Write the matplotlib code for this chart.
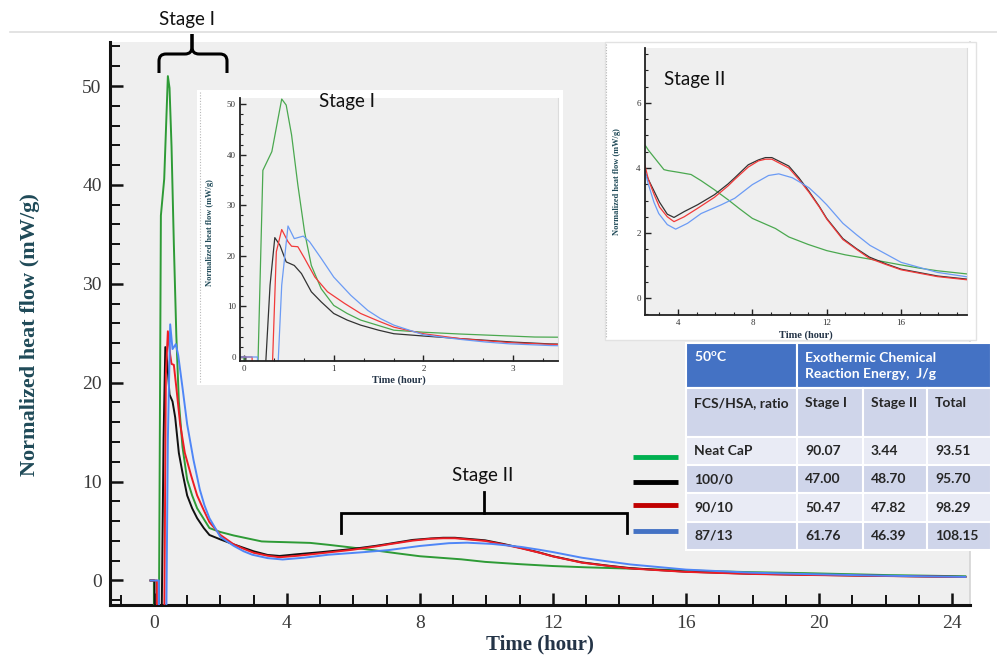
import matplotlib
matplotlib.use("Agg")
import matplotlib.pyplot as plt
from matplotlib.patches import Rectangle, PathPatch
from matplotlib.path import Path
from matplotlib.ticker import MultipleLocator

# ---------------- data ----------------
series_names = ["Neat CaP", "100/0", "90/10", "87/13"]

green_t = [-0.10, 0.00, 0.001, 0.15, 0.21, 0.31, 0.42, 0.47, 0.53, 0.60, 0.675, 0.75, 0.86,
           1.00, 1.15, 1.30, 1.67, 2.00, 2.40, 2.96, 3.24, 3.46, 4.00, 4.70, 5.24, 5.96, 6.70,
           7.30, 8.00, 9.24, 9.96, 11.0, 12.0, 13.0, 14.3, 16.0, 17.0, 17.96, 19.6, 22.0, 24.4]
green_v = [0, 0, -5, -5, 36.9, 40.6, 51.0, 49.8, 43.9, 34.0, 24.7, 18.1, 13.5,
           10.2, 8.6, 7.3, 5.3, 4.9, 4.55, 4.15, 3.95, 3.92, 3.87, 3.80, 3.61, 3.33, 3.02,
           2.75, 2.45, 2.14, 1.88, 1.65, 1.46, 1.33, 1.20, 1.02, 0.92, 0.84, 0.74, 0.55, 0.42]

black_t = [-0.10, 0.02, 0.021, 0.23, 0.29, 0.343, 0.40, 0.47, 0.56, 0.64, 0.75, 0.86, 1.00,
           1.15, 1.30, 1.50, 1.67, 2.00, 2.40, 2.70, 3.00, 3.42, 3.78, 4.33, 5.05, 5.96, 6.69,
           7.05, 7.78, 8.33, 8.70, 9.05, 9.96, 10.5, 11.05, 11.6, 12.0, 12.87, 13.6, 14.3,
           15.2, 16.0, 17.96, 19.6, 22.0, 24.4]
black_v = [0, 0, -5, -5, 14.2, 23.6, 22.1, 18.8, 18.1, 16.5, 12.9, 10.9, 8.6,
           7.3, 6.3, 5.3, 4.6, 4.15, 3.65, 3.3, 2.95, 2.58, 2.48, 2.66, 2.87, 3.18, 3.51,
           3.70, 4.10, 4.25, 4.32, 4.32, 4.06, 3.70, 3.28, 2.82, 2.45, 1.83, 1.52, 1.26,
           1.05, 0.89, 0.68, 0.58, 0.46, 0.36]

red_t = [-0.10, 0.09, 0.091, 0.31, 0.36, 0.42, 0.49, 0.53, 0.60, 0.675, 0.79, 0.93, 1.12,
         1.30, 1.50, 1.67, 2.00, 2.40, 2.70, 3.00, 3.42, 3.78, 4.33, 5.05, 5.96, 6.69,
         7.05, 7.78, 8.33, 8.70, 9.05, 9.96, 10.5, 11.05, 11.6, 12.0, 12.87, 13.6, 14.3,
         15.2, 16.0, 17.96, 19.6, 22.0, 24.4]
red_v = [0, 0, -5, -5, 20.8, 25.2, 22.8, 21.9, 21.8, 19.5, 15.8, 12.9, 10.6,
         8.6, 7.1, 5.9, 4.6, 3.65, 3.2, 2.8, 2.5, 2.35, 2.5, 2.76, 3.10, 3.45,
         3.65, 4.03, 4.22, 4.27, 4.27, 4.00, 3.65, 3.25, 2.80, 2.43, 1.80, 1.50, 1.22,
         1.03, 0.87, 0.66, 0.56, 0.45, 0.35]

blue_t = [-0.10, 0.15, 0.151, 0.37, 0.42, 0.49, 0.56, 0.66, 0.73, 0.86, 1.00, 1.19, 1.38,
          1.52, 1.67, 2.00, 2.40, 2.70, 2.96, 3.42, 3.87, 4.51, 5.24, 6.33, 7.05, 8.00, 8.87,
          9.42, 10.15, 10.6, 11.05, 11.6, 12.0, 12.87, 13.6, 14.33, 15.2, 16.0, 17.96, 19.6,
          22.0, 24.4]
blue_v = [0, 0, -5, -5, 14.2, 25.9, 23.4, 23.9, 22.8, 19.5, 15.8, 12.2, 9.2,
          7.6, 6.3, 4.4, 3.5, 2.95, 2.6, 2.26, 2.12, 2.30, 2.60, 2.87, 3.07, 3.49, 3.77,
          3.82, 3.70, 3.55, 3.39, 3.10, 2.87, 2.30, 1.95, 1.62, 1.35, 1.10, 0.79, 0.65,
          0.48, 0.36]

main_xticks = [0, 4, 8, 12, 16, 20, 24]
main_yticks = [0, 10, 20, 30, 40, 50]
inset1_xticks = [0, 1, 2, 3]
inset1_yticks = [0, 10, 20, 30, 40, 50]
inset2_xticks = [4, 8, 12, 16]
inset2_yticks = [0, 2, 4, 6]

table_header = [r"50$^{\mathregular{o}}$C", "Exothermic Chemical\nReaction Energy,  J/g"]
table_cols = ["FCS/HSA, ratio", "Stage I", "Stage II", "Total"]
table_rows = [["Neat CaP", "90.07", "3.44", "93.51"],
              ["100/0", "47.00", "48.70", "95.70"],
              ["90/10", "50.47", "47.82", "98.29"],
              ["87/13", "61.76", "46.39", "108.15"]]

# ---------------- styling ----------------
W, H = 997, 655
SERIF = "Liberation Serif"
SANS = "Lato"
main_colors = ["#2e9b36", "#111111", "#ee1c24", "#4f86f7"]
inset_colors = ["#4aa84f", "#333333", "#f23a3a", "#6b9bf5"]
swatch_colors = ["#00b050", "#000000", "#c00000", "#4472c4"]
swatch_y = [457, 482, 505, 531]
label_color = "#1f4a58"

data = [(green_t, green_v), (black_t, black_v), (red_t, red_v), (blue_t, blue_v)]


def rect(x0, y0, x1, y1):
    return [x0 / W, 1 - y1 / H, (x1 - x0) / W, (y1 - y0) / H]


fig = plt.figure(figsize=(W / 100, H / 100), dpi=100)
fig.patch.set_facecolor("white")

# ---------------- main axes ----------------
ax = fig.add_axes(rect(110, 42, 970, 605))
ax.set_facecolor("#efefef")
for (t, v), c in zip(data, main_colors):
    ax.plot(t, v, color=c, lw=1.4, zorder=3)
ax.set_xlim(-1.32, 24.54)
ax.set_ylim(-2.48, 54.45)
ax.set_xticks(main_xticks)
ax.set_yticks(main_yticks)
ax.xaxis.set_minor_locator(MultipleLocator(1))
ax.yaxis.set_minor_locator(MultipleLocator(2))
ax.spines["top"].set_visible(False)
ax.spines["right"].set_color("#d4d4d4")
ax.spines["right"].set_linewidth(1.2)
for s in ["left", "bottom"]:
    ax.spines[s].set_linewidth(2.2)
    ax.spines[s].set_color("#111111")
ax.tick_params(axis="both", which="major", direction="in", length=9, width=1.8, color="#111111")
ax.tick_params(axis="both", which="minor", direction="in", length=7, width=1.4, color="#111111")
ax.tick_params(axis="y", which="both", right=False)
ax.tick_params(axis="y", which="major", pad=6)
ax.tick_params(axis="x", which="major", pad=7)
for lab in ax.get_xticklabels() + ax.get_yticklabels():
    lab.set_fontfamily(SERIF)
    lab.set_fontsize(14)
    lab.set_color("#3a3a3a")
ax.set_xlabel("Time (hour)", fontfamily=SERIF, fontsize=15, fontweight="bold", color="#243447")
ax.set_ylabel("Normalized heat flow (mW/g)", fontfamily=SERIF, fontsize=16, fontweight="bold",
              color=label_color)
ax.xaxis.set_label_coords(0.5, -0.053)
ax.yaxis.set_label_coords(-0.081, 0.48)

# ---------------- inset boxes ----------------
fig.patches.append(Rectangle((197 / W, 1 - 385 / H), 366 / W, 295 / H, transform=fig.transFigure,
                             facecolor="white", edgecolor="none", zorder=2))
fig.patches.append(Rectangle((605 / W, 1 - 340 / H), 371 / W, 298 / H, transform=fig.transFigure,
                             facecolor="white", edgecolor="#e2e2e2", lw=1.0, zorder=2))


def style_inset(a, xt, yt, xminor, yminor):
    a.set_facecolor("#efefef")
    a.set_xticks(xt)
    a.set_yticks(yt)
    a.xaxis.set_minor_locator(MultipleLocator(xminor))
    a.yaxis.set_minor_locator(MultipleLocator(yminor))
    a.spines["top"].set_visible(False)
    a.spines["right"].set_color("#dcdcdc")
    for s in ["left", "bottom"]:
        a.spines[s].set_linewidth(1.3)
        a.spines[s].set_color("#222222")
    a.tick_params(axis="both", which="major", direction="in", length=4, width=1.0, pad=3,
                  color="#222222")
    a.tick_params(axis="both", which="minor", direction="in", length=2.5, width=0.8,
                  color="#222222")
    for lab in a.get_xticklabels() + a.get_yticklabels():
        lab.set_fontfamily(SERIF)
        lab.set_fontsize(6.5)
        lab.set_color("#333333")


# inset 1 (Stage I)
a1 = fig.add_axes(rect(240, 98, 558, 361), zorder=3)
for (t, v), c in zip(data, inset_colors):
    a1.plot(t, v, color=c, lw=0.9)
a1.set_xlim(-0.045, 3.5)
a1.set_ylim(-0.79, 51.2)
style_inset(a1, inset1_xticks, inset1_yticks, 1 / 3, 2)
a1.set_xlabel("Time (hour)", fontfamily=SERIF, fontsize=7.5, fontweight="bold", color="#243447")
a1.set_ylabel("Normalized heat flow (mW/g)", fontfamily=SERIF, fontsize=6, fontweight="bold",
              color=label_color)
a1.xaxis.set_label_coords(0.5, -0.053)
a1.yaxis.set_label_coords(-0.082, 0.49)

# inset 2 (Stage II)
a2 = fig.add_axes(rect(645, 48, 967, 315), zorder=3)
for (t, v), c in zip(data, inset_colors):
    a2.plot(t, v, color=c, lw=0.9)
a2.set_xlim(2.22, 19.55)
a2.set_ylim(-0.52, 7.69)
style_inset(a2, inset2_xticks, inset2_yticks, 1, 0.5)
a2.set_xlabel("Time (hour)", fontfamily=SERIF, fontsize=7.5, fontweight="bold", color="#243447")
a2.set_ylabel("Normalized heat flow (mW/g)", fontfamily=SERIF, fontsize=6, fontweight="bold",
              color=label_color)
a2.xaxis.set_label_coords(0.5, -0.056)
a2.yaxis.set_label_coords(-0.075, 0.5)

# ---------------- overlay (annotations, table) ----------------
ov = fig.add_axes([0, 0, 1, 1], zorder=5)
ov.set_xlim(0, W)
ov.set_ylim(H, 0)
ov.axis("off")
ov.patch.set_visible(False)

# top separator line
ov.plot([10, W], [32, 32], color="#dedede", lw=1.2)
# dotted left borders of inset boxes
ov.plot([200, 200], [92, 383], color="#b8b8b8", lw=0.8, ls=(0, (1, 1.5)))
ov.plot([606, 606], [44, 338], color="#b8b8b8", lw=0.8, ls=(0, (1, 1.5)))


# Stage I brace
def brace_half(xe, xc):
    s = 1 if xe < xc else -1
    verts = [(xe, 73), (xe, 61), (xe, 54), (xe + s * 7, 54), (xc - s * 7, 54), (xc, 54), (xc, 47),
             (xc, 34)]
    codes = [Path.MOVETO, Path.LINETO, Path.CURVE3, Path.CURVE3, Path.LINETO, Path.CURVE3,
             Path.CURVE3, Path.LINETO]
    return PathPatch(Path(verts, codes), facecolor="none", edgecolor="black", lw=2.2,
                     capstyle="butt", joinstyle="round")


ov.add_patch(brace_half(159, 192))
ov.add_patch(brace_half(227, 192))
ov.text(187, 20, "Stage I", fontfamily=SANS, fontsize=13.5, ha="center", va="center", color="#111111")

# Stage II bracket in main plot
ov.plot([341, 341, 627, 627], [533, 513, 513, 533], color="black", lw=2.0, solid_joinstyle="miter")
ov.plot([484, 484], [513, 492], color="black", lw=2.0)
ov.text(483, 475, "Stage II", fontfamily=SANS, fontsize=13.5, ha="center", va="center", color="#111111")

# inset titles
ov.text(347, 101, "Stage I", fontfamily=SANS, fontsize=13.5, ha="center", va="center", color="#111111")
ov.text(695, 80, "Stage II", fontfamily=SANS, fontsize=13.5, ha="center", va="center", color="#111111")

# table
col_x = [686, 797, 863, 927, 991]
row_y = [343, 388, 437, 465, 493, 522, 550]
HDR = "#4472c4"
DARK = "#cfd5ea"
LIGHT = "#e9ebf5"
TXT = "#262626"
TFS = 10

ov.add_patch(Rectangle((col_x[0], row_y[0]), col_x[1] - col_x[0], row_y[1] - row_y[0],
                       facecolor=HDR, edgecolor="white", lw=1.5))
ov.add_patch(Rectangle((col_x[1], row_y[0]), col_x[4] - col_x[1], row_y[1] - row_y[0],
                       facecolor=HDR, edgecolor="white", lw=1.5))
ov.text(col_x[0] + 8, 357, table_header[0], fontfamily=SANS, fontsize=TFS, fontweight="bold",
        color="white", ha="left", va="center")
ov.text(col_x[1] + 8, 366, table_header[1], fontfamily=SANS, fontsize=TFS, fontweight="bold",
        color="white", ha="left", va="center", linespacing=1.4)

row_colors = [DARK, LIGHT, DARK, LIGHT, DARK]
all_rows = [table_cols] + table_rows
for r, (vals, fc) in enumerate(zip(all_rows, row_colors)):
    y0, y1 = row_y[r + 1], row_y[r + 2]
    ty = 403 if r == 0 else (y0 + y1) / 2
    for c in range(4):
        ov.add_patch(Rectangle((col_x[c], y0), col_x[c + 1] - col_x[c], y1 - y0,
                               facecolor=fc, edgecolor="white", lw=1.5))
        ov.text(col_x[c] + 8, ty, vals[c], fontfamily=SANS, fontsize=TFS, fontweight="bold",
                color=TXT, ha="left", va="center")

# legend swatches beside the table rows
for c, yc in zip(swatch_colors, swatch_y):
    ov.plot([633, 678], [yc, yc], color=c, lw=3.5, solid_capstyle="butt")

fig.savefig("out.png", dpi=100)
